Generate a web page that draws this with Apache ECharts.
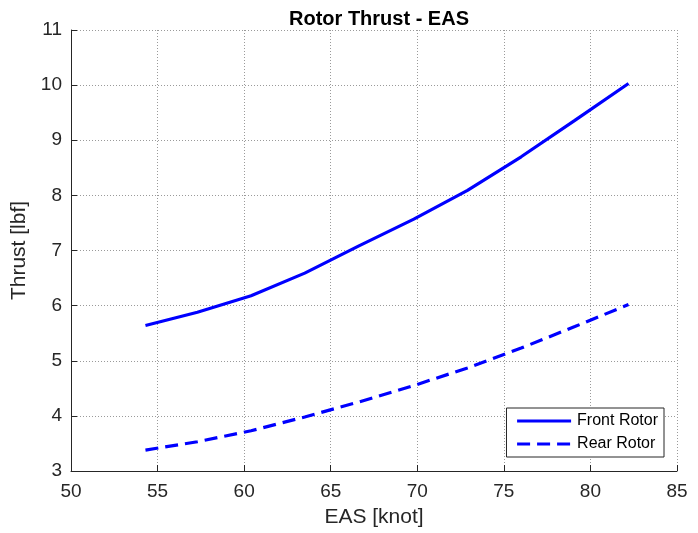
<!DOCTYPE html>
<html>
<head>
<meta charset="utf-8">
<script src="https://cdn.jsdelivr.net/npm/echarts@6/dist/echarts.min.js"></script>
<style>
    html, body { margin: 0; padding: 0; background: #fff; }
    #chart { width: 698px; height: 533px; }
</style>
</head>
<body>
<div id="chart"></div>
<script>
    // EAS [knot]
    const easKnot = [54.3, 57.3, 60.4, 63.5, 66.6, 69.8, 72.9, 76.0, 79.1, 82.2];
    // thrust [lbf]
    const frontRotor = [5.64, 5.88, 6.18, 6.59, 7.08, 7.57, 8.09, 8.70, 9.36, 10.03];
    const rearRotor = [3.38, 3.53, 3.73, 3.98, 4.25, 4.55, 4.87, 5.23, 5.62, 6.02];
    const seriesNames = ["Front Rotor", "Rear Rotor"];

    const font = "Liberation Sans, Arial, sans-serif";
    const pairs = (ys) => easKnot.map((x, i) => [x, ys[i]]);

    const chart = echarts.init(document.getElementById("chart"));

    const gridLine = {
        show: true,
        lineStyle: { color: "#9a9a9a", type: [1, 2], width: 1 }
    };

    const option = {
        animation: false,
        title: {
            text: "Rotor Thrust - EAS",
            left: 374,
            textAlign: "center",
            top: 4,
            textStyle: { fontFamily: font, fontSize: 20, fontWeight: "bold", color: "#000" }
        },
        grid: { left: 71, right: 21, top: 30, bottom: 61 },
        legend: {
            data: seriesNames,
            orient: "vertical",
            right: 34,
            bottom: 76,
            itemWidth: 54,
            itemHeight: 14,
            itemGap: 7,
            padding: [5, 6, 5, 9],
            backgroundColor: "#fff",
            borderColor: "#262626",
            borderWidth: 1,
            borderRadius: 0,
            itemStyle: { opacity: 0 },
            lineStyle: { width: 3.2 },
            textStyle: { fontFamily: font, fontSize: 16, color: "#000", padding: [0, 0, 0, 1] }
        },
        xAxis: {
            type: "value",
            min: 50,
            max: 85,
            interval: 5,
            name: "EAS [knot]",
            nameLocation: "middle",
            nameGap: 36,
            nameTextStyle: { fontFamily: font, fontSize: 21, color: "#262626" },
            axisLine: { show: true, lineStyle: { color: "#262626", width: 1 } },
            axisTick: { show: true, inside: true, length: 6, lineStyle: { color: "#262626" } },
            axisLabel: { fontFamily: font, fontSize: 19, color: "#262626", margin: 11 },
            splitLine: gridLine
        },
        yAxis: {
            type: "value",
            min: 3,
            max: 11,
            interval: 1,
            name: "Thrust [lbf]",
            nameLocation: "middle",
            nameGap: 38,
            nameTextStyle: { fontFamily: font, fontSize: 21, color: "#262626" },
            axisLine: { show: true, lineStyle: { color: "#262626", width: 1 } },
            axisTick: { show: true, inside: true, length: 6, lineStyle: { color: "#262626" } },
            axisLabel: { fontFamily: font, fontSize: 19, color: "#262626", margin: 9 },
            splitLine: gridLine
        },
        series: [
            {
                name: seriesNames[0],
                type: "line",
                data: pairs(frontRotor),
                showSymbol: false,
                symbol: "none",
                lineStyle: { color: "#0000ff", width: 3.2, type: "solid" },
                itemStyle: { color: "#0000ff" }
            },
            {
                name: seriesNames[1],
                type: "line",
                data: pairs(rearRotor),
                showSymbol: false,
                symbol: "none",
                lineStyle: { color: "#0000ff", width: 3.2, type: [13, 7] },
                itemStyle: { color: "#0000ff" }
            }
        ]
    };

    chart.setOption(option);
</script>
</body>
</html>
